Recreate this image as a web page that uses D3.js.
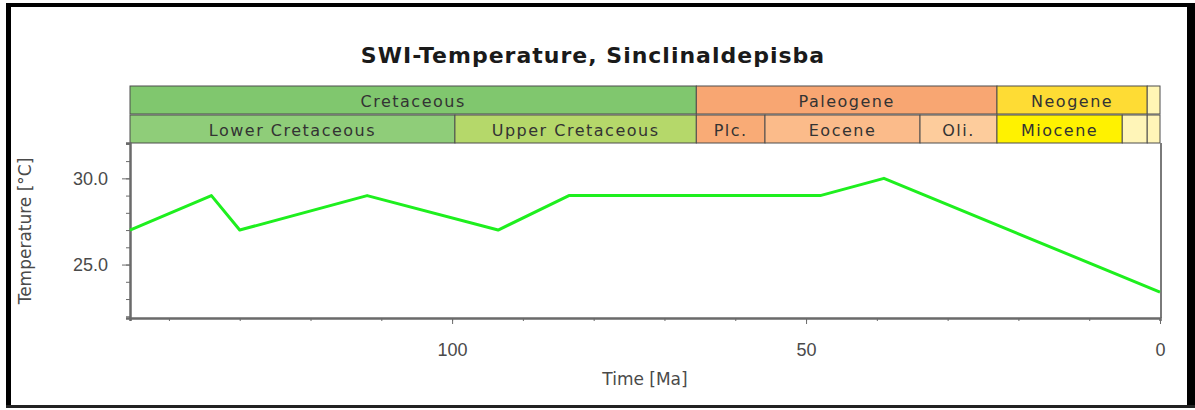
<!DOCTYPE html>
<html>
<head>
<meta charset="utf-8">
<script src="https://cdn.jsdelivr.net/npm/d3@7"></script>
<style>
  body { margin: 0; background: #fff; }
  svg { display: block; font-family: 'DejaVu Sans', sans-serif; }
  .axis path, .axis line { stroke: #6a6a6a; }
  .axis text { fill: #4a4a4a; font-size: 18px; }
  .band rect { stroke: #4d4d4d; stroke-width: 1; }
  .band text { fill: #333; font-size: 16px; letter-spacing: 1.5px; }
</style>
</head>
<body>
<svg id="chart" width="1195" height="410"></svg>
<script>
// SWI temperature history (age in Ma, temperature in degC)
const ages = [145.5, 134, 130, 112, 93.5, 83.5, 48, 39, 0];
const temps = [27.0, 29.0, 27.0, 29.0, 27.0, 29.0, 29.0, 30.0, 23.4];

// geologic time scale
const periodNames = ['Cretaceous', 'Paleogene', 'Neogene', ''];
const periodBounds = [145.5, 65.5, 23.03, 1.806, 0];
const periodColors = ['#80c76e', '#f8a672', '#fedc34', '#fff6b4'];

const epochNames = ['Lower Cretaceous', 'Upper Cretaceous', 'Plc.', 'Eocene', 'Oli.', 'Miocene', '', ''];
const epochBounds = [145.5, 99.6, 65.5, 55.8, 33.9, 23.03, 5.332, 1.806, 0];
const epochColors = ['#8fcd79', '#b5d86a', '#f9ab76', '#fbbb8a', '#fdcc9c', '#fff200', '#fff5b8', '#fff5b8'];

// axis ticks
const xMajorTicks = [100, 50, 0];
const xMinorTicks = [140, 130, 120, 110, 100, 90, 80, 70, 60, 50, 40, 30, 20, 10, 0];
const yMajorTicks = [25, 30];
const yMinorTicks = [22, 23, 24, 25, 26, 27, 28, 29, 30, 31, 32];

const title = 'SWI-Temperature, Sinclinaldepisba';
const xTitle = 'Time [Ma]';
const yTitle = 'Temperature [°C]';

const plot = { left: 130, right: 1161, top: 143, bottom: 318 };
const bandTop = 86;
const bandHeight = 28;

const svg = d3.select('#chart');

const x = d3.scaleLinear()
  .domain([145.5, 0])
  .range([plot.left, 1160]);

const y = d3.scaleLinear()
  .domain([21.9, 32.05])
  .range([plot.bottom, plot.top]);

// outer frame
svg.append('rect').attr('x', 6).attr('y', 3).attr('width', 1183).attr('height', 4).attr('fill', '#000');
svg.append('rect').attr('x', 6).attr('y', 3).attr('width', 5).attr('height', 405).attr('fill', '#000');
svg.append('rect').attr('x', 1187).attr('y', 3).attr('width', 8).attr('height', 405).attr('fill', '#000');
svg.append('rect').attr('x', 6).attr('y', 405).attr('width', 1189).attr('height', 3).attr('fill', '#222');

svg.append('text')
  .attr('x', 593)
  .attr('y', 63)
  .attr('text-anchor', 'middle')
  .style('font-size', '22px')
  .style('font-weight', 'bold')
  .style('letter-spacing', '1px')
  .attr('fill', '#1a1a1a')
  .text(title);

// time scale bands
const drawBand = (names, bounds, colors, top) => {
  const cells = names.map((name, i) => ({ name, from: bounds[i], to: bounds[i + 1], color: colors[i] }));
  const g = svg.append('g').classed('band', true);
  const cell = g.selectAll('g')
    .data(cells)
    .enter()
    .append('g');
  cell.append('rect')
    .attr('x', d => x(d.from))
    .attr('y', top)
    .attr('width', d => x(d.to) - x(d.from))
    .attr('height', bandHeight)
    .attr('fill', d => d.color);
  cell.append('text')
    .attr('x', d => (x(d.from) + x(d.to)) / 2)
    .attr('y', top + 21)
    .attr('text-anchor', 'middle')
    .text(d => d.name);
};

drawBand(periodNames, periodBounds, periodColors, bandTop);
drawBand(epochNames, epochBounds, epochColors, bandTop + bandHeight + 1);

// plot frame (right edge)
svg.append('line')
  .attr('x1', plot.right).attr('x2', plot.right)
  .attr('y1', plot.top).attr('y2', plot.bottom)
  .attr('stroke', '#7a7a7a')
  .attr('stroke-width', 2);

// axes
const xAxisMinor = d3.axisBottom(x)
  .tickValues(xMinorTicks)
  .tickSize(3)
  .tickFormat('');
const xAxis = d3.axisBottom(x)
  .tickValues(xMajorTicks)
  .tickSize(6)
  .tickPadding(19)
  .tickFormat(d3.format('d'));

svg.append('g')
  .classed('axis', true)
  .attr('transform', `translate(0,${plot.bottom})`)
  .call(xAxisMinor)
  .call(g => g.select('.domain').attr('stroke-width', 2.5));
svg.append('g')
  .classed('axis', true)
  .attr('transform', `translate(0,${plot.bottom})`)
  .call(xAxis)
  .call(g => g.select('.domain').remove());

const yAxisMinor = d3.axisLeft(y)
  .tickValues(yMinorTicks)
  .tickSize(4)
  .tickFormat('');
const yAxis = d3.axisLeft(y)
  .tickValues(yMajorTicks)
  .tickSize(8)
  .tickPadding(14)
  .tickFormat(d3.format('.1f'));

svg.append('g')
  .classed('axis', true)
  .attr('transform', `translate(${plot.left},0)`)
  .call(yAxisMinor)
  .call(g => g.select('.domain').attr('stroke-width', 2.5));
svg.append('g')
  .classed('axis', true)
  .attr('transform', `translate(${plot.left},0)`)
  .call(yAxis)
  .call(g => g.select('.domain').remove());

svg.append('text')
  .attr('x', 645)
  .attr('y', 385)
  .attr('text-anchor', 'middle')
  .style('font-size', '17px')
  .attr('fill', '#4a4a4a')
  .text(xTitle);

svg.append('text')
  .attr('transform', 'translate(31,231) rotate(-90)')
  .attr('text-anchor', 'middle')
  .style('font-size', '17px')
  .attr('fill', '#4a4a4a')
  .text(yTitle);

// temperature line
const line = d3.line()
  .x(d => x(d[0]))
  .y(d => y(d[1]));

svg.append('path')
  .datum(d3.zip(ages, temps))
  .attr('d', line)
  .attr('fill', 'none')
  .attr('stroke', '#1eef1e')
  .attr('stroke-width', 3)
  .attr('stroke-linejoin', 'round');
</script>
</body>
</html>
